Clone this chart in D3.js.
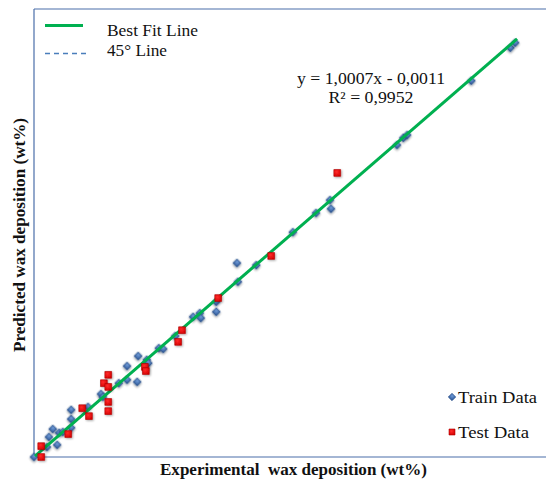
<!DOCTYPE html>
<html>
<head>
<meta charset="utf-8">
<script src="https://cdn.jsdelivr.net/npm/d3@7"></script>
<style>
  html, body { margin: 0; padding: 0; background: #fff; }
  svg { display: block; }
</style>
</head>
<body>
<script>
// ---- Data (experimental vs predicted wax deposition, wt%) ----
const trainX = [0.00,0.27,0.31,0.39,0.48,0.52,0.60,0.77,0.77,0.77,1.12,1.39,1.43,1.76,1.93,1.93,2.14,2.16,2.34,2.37,2.59,2.68,2.93,3.30,3.44,3.46,3.78,3.78,4.23,4.21,4.61,5.37,5.85,6.14,6.16,7.53,7.66,7.74,9.07,9.88,9.98];
const trainY = [0.00,0.24,0.48,0.67,0.29,0.58,0.60,0.70,0.91,1.13,1.20,1.51,1.44,1.77,1.85,2.18,1.80,2.42,2.33,2.25,2.61,2.59,2.90,3.36,3.45,3.33,3.72,3.48,4.20,4.65,4.60,5.39,5.85,6.16,5.95,7.48,7.65,7.72,9.02,9.81,9.93];
const testX = [0.15,0.15,0.71,1.00,1.14,1.45,1.54,1.54,1.54,1.54,2.30,2.32,2.99,3.07,3.82,4.92,6.29];
const testY = [0.00,0.26,0.55,1.17,0.98,1.77,1.97,1.68,1.32,1.10,2.16,2.06,2.76,3.04,3.81,4.82,6.81];
const fitSlope = 1.0007, fitIntercept = -0.0011;
const fitRange = [0.02, 10.02];
const legendLines = ["Best Fit Line", "45° Line"];
const legendSeries = ["Train Data", "Test Data"];
const eqText = ["y = 1,0007x - 0,0011", "R² = 0,9952"];
const xTitle = "Experimental  wax deposition (wt%)";
const yTitle = "Predicted wax deposition (wt%)";

const W = 546, H = 481;
const svg = d3.select("body").append("svg").attr("width", W).attr("height", H);
const serif = "'Liberation Serif','Times New Roman',serif";

const x = d3.scaleLinear().domain([0, 10.62]).range([34, 546]);
const y = d3.scaleLinear().domain([0, 10.74]).range([457, 9]);

const defs = svg.append("defs");
const gb = defs.append("radialGradient").attr("id","gBlue").attr("cx","40%").attr("cy","35%").attr("r","70%");
gb.append("stop").attr("offset","0%").attr("stop-color","#6f9ad6");
gb.append("stop").attr("offset","100%").attr("stop-color","#2f5a9a");
const gr = defs.append("radialGradient").attr("id","gRed").attr("cx","40%").attr("cy","35%").attr("r","70%");
gr.append("stop").attr("offset","0%").attr("stop-color","#ff2a2a");
gr.append("stop").attr("offset","100%").attr("stop-color","#d40000");
const sh = defs.append("filter").attr("id","shadow").attr("x","-50%").attr("y","-50%").attr("width","200%").attr("height","200%");
sh.append("feDropShadow").attr("dx",1).attr("dy",1).attr("stdDeviation",0.9).attr("flood-color","#000").attr("flood-opacity",0.35);

// Frame
const frame = "#4a6ea9";
svg.append("line").attr("x1", x(0)).attr("x2", x(0)).attr("y1", y.range()[1]).attr("y2", y(0)).attr("stroke", frame).attr("stroke-width", 1.2);
svg.append("line").attr("x1", x(0)).attr("x2", W).attr("y1", y(0)).attr("y2", y(0)).attr("stroke", frame).attr("stroke-width", 1.2);
svg.append("line").attr("x1", x(0)).attr("x2", W).attr("y1", y.range()[1]).attr("y2", y.range()[1]).attr("stroke", frame).attr("stroke-width", 1.2);

// 45° line (dashed) below fit line
svg.append("line")
  .attr("x1", x(0)).attr("y1", y(0)).attr("x2", x(fitRange[1])).attr("y2", y(fitRange[1]))
  .attr("stroke", "#4a7ebb").attr("stroke-width", 1.3).attr("stroke-dasharray", "5,3");

// Points
const diamond = d3.symbol().type(d3.symbolSquare).size(34);
const square = d3.symbol().type(d3.symbolSquare).size(46);

svg.append("g").selectAll("path").data(trainX.map((d,i)=>[d, trainY[i]])).join("path")
  .attr("d", diamond)
  .attr("transform", d => `translate(${x(d[0])},${y(d[1])}) rotate(45)`)
  .attr("fill", "url(#gBlue)").attr("stroke", "#2a4f86").attr("stroke-width", 0.6)
  .attr("filter", "url(#shadow)");

// Fit line
svg.append("line")
  .attr("x1", x(fitRange[0])).attr("y1", y(fitSlope*fitRange[0] + fitIntercept))
  .attr("x2", x(fitRange[1])).attr("y2", y(fitSlope*fitRange[1] + fitIntercept))
  .attr("stroke", "#00b050").attr("stroke-width", 3);

svg.append("g").selectAll("path").data(testX.map((d,i)=>[d, testY[i]])).join("path")
  .attr("d", square)
  .attr("transform", d => `translate(${x(d[0])},${y(d[1])})`)
  .attr("fill", "url(#gRed)").attr("stroke", "#b00000").attr("stroke-width", 0.6)
  .attr("filter", "url(#shadow)");

// Top-left legend
svg.append("line").attr("x1", 45).attr("x2", 83).attr("y1", 25.5).attr("y2", 25.5)
  .attr("stroke", "#00b050").attr("stroke-width", 3);
svg.append("line").attr("x1", 45).attr("x2", 87).attr("y1", 53.5).attr("y2", 53.5)
  .attr("stroke", "#4a7ebb").attr("stroke-width", 1.3).attr("stroke-dasharray", "5,4");
const legLen = [91, 60];
svg.append("g").selectAll("text").data(legendLines).join("text")
  .attr("x", 107).attr("y", (d,i) => 36 + i*20)
  .attr("font-family", serif).attr("font-size", 16).attr("fill", "#111")
  .attr("textLength", (d,i) => legLen[i]).attr("lengthAdjust", "spacingAndGlyphs")
  .text(d => d);

// Equation
const eqLen = [148, 85];
svg.append("g").selectAll("text").data(eqText).join("text")
  .attr("x", 371).attr("y", (d,i) => 84 + i*19)
  .attr("text-anchor", "middle")
  .attr("font-family", serif).attr("font-size", 16).attr("fill", "#111")
  .attr("textLength", (d,i) => eqLen[i]).attr("lengthAdjust", "spacingAndGlyphs")
  .text(d => d);

// Right legend
const lg = svg.append("g");
lg.append("path").attr("d", d3.symbol().type(d3.symbolSquare).size(28))
  .attr("transform", "translate(452,397) rotate(45)")
  .attr("fill", "url(#gBlue)").attr("stroke", "#2a4f86").attr("stroke-width", 0.6);
lg.append("path").attr("d", d3.symbol().type(d3.symbolSquare).size(36))
  .attr("transform", "translate(452,432)")
  .attr("fill", "url(#gRed)").attr("stroke", "#b00000").attr("stroke-width", 0.6);
const serLen = [79, 71];
lg.selectAll("text").data(legendSeries).join("text")
  .attr("x", 458).attr("y", (d,i) => 403 + i*35)
  .attr("font-family", serif).attr("font-size", 16.5).attr("fill", "#111")
  .attr("textLength", (d,i) => serLen[i]).attr("lengthAdjust", "spacingAndGlyphs")
  .text(d => d);

// Axis titles
svg.append("text").attr("x", 160).attr("y", 475)
  .attr("font-family", serif).attr("font-size", 16).attr("font-weight", "bold")
  .attr("fill", "#111").style("white-space", "pre")
  .attr("textLength", 267).attr("lengthAdjust", "spacingAndGlyphs")
  .text(xTitle);
svg.append("text").attr("transform", "translate(25,352) rotate(-90)")
  .attr("font-family", serif).attr("font-size", 16).attr("font-weight", "bold")
  .attr("fill", "#111")
  .attr("textLength", 234).attr("lengthAdjust", "spacingAndGlyphs")
  .text(yTitle);
</script>
</body>
</html>
